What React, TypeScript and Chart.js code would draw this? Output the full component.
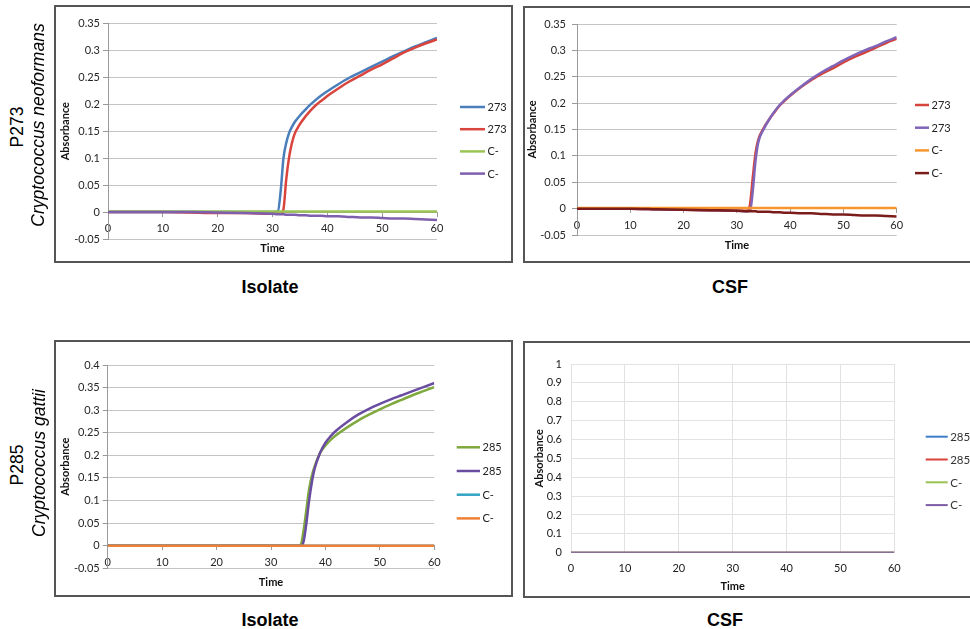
import React, { useEffect, useRef } from 'react';
import { Chart, registerables } from 'chart.js';

Chart.register(...registerables);

// ---------------- DATA ----------------
// Panel 1: P273 isolate
const TIME_P1 = [0, 5, 10, 15, 20, 25, 30, 31, 31.5, 32, 32.5, 33, 33.5, 34, 35, 36, 37, 38, 39, 40, 42, 44, 46, 48, 50, 52, 54, 56, 58, 60];
const P1_273_BLUE = [0, 0, 0, 0, 0, 0, 0, 0.002, 0.04, 0.1, 0.128, 0.146, 0.157, 0.166, 0.179, 0.19, 0.2, 0.209, 0.217, 0.224, 0.237, 0.249, 0.259, 0.269, 0.279, 0.289, 0.298, 0.307, 0.315, 0.323];
const P1_273_RED = [0, 0, 0, -0.001, -0.002, -0.002, -0.003, -0.003, -0.003, 0.005, 0.06, 0.1, 0.126, 0.144, 0.163, 0.177, 0.189, 0.199, 0.207, 0.215, 0.229, 0.242, 0.253, 0.264, 0.274, 0.285, 0.296, 0.305, 0.313, 0.32];
const P1_CNEG_GREEN = [0.001, 0.001, 0.001, 0.001, 0.001, 0.001, 0.001, 0.001, 0.001, 0.001, 0.001, 0.001, 0.001, 0.001, 0.001, 0.001, 0.001, 0.001, 0.001, 0.001, 0.001, 0.001, 0.001, 0.001, 0.001, 0.001, 0.001, 0.001, 0.001, 0.001];
const P1_CNEG_PURPLE = [0, 0, 0, 0, -0.001, -0.002, -0.003, -0.004, -0.004, -0.004, -0.005, -0.005, -0.005, -0.005, -0.006, -0.006, -0.007, -0.007, -0.007, -0.008, -0.008, -0.009, -0.01, -0.01, -0.011, -0.012, -0.012, -0.013, -0.014, -0.015];

// Panel 2: P273 CSF
const TIME_P2 = [0, 5, 10, 15, 20, 25, 30, 32, 32.5, 33, 33.5, 34, 35, 36, 37, 38, 39, 40, 42, 44, 46, 48, 50, 52, 54, 56, 58, 60];
const P2_273_RED = [0, 0, 0, -0.001, -0.002, -0.003, -0.004, -0.004, 0.01, 0.06, 0.105, 0.13, 0.152, 0.168, 0.182, 0.195, 0.205, 0.214, 0.23, 0.244, 0.256, 0.266, 0.277, 0.287, 0.296, 0.305, 0.314, 0.322];
const P2_273_PURPLE = [0, 0, 0, -0.001, -0.002, -0.003, -0.004, -0.005, -0.004, 0.035, 0.09, 0.125, 0.15, 0.168, 0.183, 0.196, 0.206, 0.215, 0.231, 0.246, 0.259, 0.27, 0.281, 0.291, 0.3, 0.308, 0.317, 0.325];
const P2_CNEG_ORANGE = [0.001, 0.001, 0.001, 0.001, 0.001, 0.001, 0.001, 0.001, 0.001, 0.001, 0.001, 0.001, 0.001, 0.001, 0.001, 0.001, 0.001, 0.001, 0.001, 0.001, 0.001, 0.001, 0.001, 0.001, 0.001, 0.001, 0.001, 0.001];
const P2_CNEG_DARKRED = [0, 0, 0, -0.001, -0.002, -0.003, -0.004, -0.005, -0.005, -0.005, -0.005, -0.006, -0.006, -0.006, -0.007, -0.007, -0.008, -0.008, -0.009, -0.009, -0.01, -0.011, -0.011, -0.012, -0.013, -0.013, -0.014, -0.015];

// Panel 3: P285 isolate
const TIME_P3 = [0, 5, 10, 15, 20, 25, 30, 35, 35.5, 36, 36.5, 37, 37.5, 38, 39, 40, 41, 42, 44, 46, 48, 50, 52, 54, 56, 58, 60];
const P3_285_GREEN = [0, 0, 0, 0, 0, 0, 0, 0, 0.003, 0.035, 0.08, 0.125, 0.155, 0.175, 0.205, 0.222, 0.235, 0.245, 0.262, 0.277, 0.29, 0.302, 0.313, 0.323, 0.333, 0.342, 0.351];
const P3_285_PURPLE = [0, 0, 0, 0, 0, 0, 0, 0, 0, 0.01, 0.05, 0.1, 0.14, 0.17, 0.205, 0.228, 0.243, 0.255, 0.274, 0.29, 0.303, 0.314, 0.324, 0.333, 0.342, 0.351, 0.36];
const P3_CNEG_TEAL = [0, 0, 0, 0, 0, 0, 0, 0, 0, 0, 0, 0, 0, 0, 0, 0, 0, 0, 0, 0, 0, 0, 0, 0, 0, 0, 0];
const P3_CNEG_ORANGE = [0, 0, 0, 0, 0, 0, 0, 0, 0, 0, 0, 0, 0, 0, 0, 0, 0, 0, 0, 0, 0, 0, 0, 0, 0, 0, 0];

// Panel 4: P285 CSF
const TIME_P4 = [0, 10, 20, 30, 40, 50, 60];
const P4_285_BLUE = [0, 0, 0, 0, 0, 0, 0];
const P4_285_RED = [0, 0, 0, 0, 0, 0, 0];
const P4_CNEG_GREEN = [0, 0, 0, 0, 0, 0, 0];
const P4_CNEG_PURPLE = [0, 0, 0, 0, 0, 0, 0];

const LABELS_P273 = ['273', '273', 'C-', 'C-'];
const LABELS_P285 = ['285', '285', 'C-', 'C-'];

const FONT = 'Lato, "Open Sans", sans-serif';

const fmtTick = (v: any) => {
  const r = Math.round(Number(v) * 1000) / 1000;
  return String(r === 0 ? 0 : r);
};

// ---------------- LEGEND PLUGIN ----------------
const sideLegend = {
  id: 'sideLegend',
  afterDraw(chart: any, _args: any, opts: any) {
    const ctx = chart.ctx;
    ctx.save();
    chart.data.datasets.forEach((ds: any, i: number) => {
      const y = opts.y + i * opts.step;
      ctx.strokeStyle = ds.borderColor;
      ctx.lineWidth = opts.lineWidth;
      ctx.lineCap = 'butt';
      ctx.beginPath();
      ctx.moveTo(opts.x, y);
      ctx.lineTo(opts.x + opts.len, y);
      ctx.stroke();
      ctx.fillStyle = opts.color;
      ctx.font = `${opts.fontSize}px ${FONT}`;
      ctx.textBaseline = 'middle';
      ctx.textAlign = 'left';
      ctx.fillText(ds.label, opts.x + opts.len + opts.gap, y + 0.5);
    });
    ctx.restore();
  },
};

type Series = { label: string; data: number[]; color: string };
type Spec = {
  times: number[];
  series: Series[];
  yMin: number; yMax: number; yStep: number;
  pad: { top: number; right: number; bottom: number };
  yAxisWidth: number;
  yTitlePad: number;
  yTickLen: number; yTickPad: number;
  xTickLen: number; xTickPad: number;
  modern: boolean;
  lineWidth: number;
  legend: any;
};

function buildConfig(spec: Spec): any {
  const n = spec.series.length;
  const datasets = spec.series.map((s, i) => ({
    label: s.label,
    data: spec.times.map((t, j) => ({ x: t, y: s.data[j] })),
    borderColor: s.color,
    backgroundColor: s.color,
    borderWidth: spec.lineWidth,
    pointRadius: 0,
    pointHoverRadius: 0,
    cubicInterpolationMode: 'monotone',
    fill: false,
    order: n - i,
  }));
  const axisColor = spec.modern ? 'transparent' : '#9a9a9a';
  const gridColor = spec.modern ? '#e2e2e2' : '#c4c4c4';
  const tickColor = spec.modern ? '#1a1a1a' : '#262626';
  return {
    type: 'line',
    data: { datasets },
    options: {
      responsive: false,
      animation: false,
      locale: 'en-US',
      events: [],
      layout: { padding: { left: 0, top: spec.pad.top, right: spec.pad.right, bottom: spec.pad.bottom } },
      plugins: {
        legend: { display: false },
        tooltip: { enabled: false },
        sideLegend: spec.legend,
      },
      scales: {
        x: {
          type: 'linear',
          position: { y: 0 },
          min: 0,
          max: 60,
          ticks: {
            stepSize: 10,
            padding: spec.xTickPad,
            color: tickColor,
            font: { family: FONT, size: 11 },
            maxRotation: 0,
            callback: fmtTick,
          },
          grid: {
            display: true,
            drawOnChartArea: spec.modern,
            drawTicks: true,
            tickLength: spec.xTickLen,
            color: gridColor,
            tickColor: spec.modern ? 'transparent' : '#9a9a9a',
          },
          border: { display: !spec.modern, color: axisColor, width: 1 },
          title: {
            display: true,
            text: 'Time',
            color: '#111',
            font: { family: FONT, size: 11, weight: 'bold' },
            padding: { top: 1, bottom: 0 },
          },
        },
        y: {
          type: 'linear',
          position: 'left',
          min: spec.yMin,
          max: spec.yMax,
          afterFit: (axis: any) => { axis.width = spec.yAxisWidth; },
          ticks: {
            stepSize: spec.yStep,
            padding: spec.yTickPad,
            color: tickColor,
            font: { family: FONT, size: 11 },
            callback: fmtTick,
          },
          grid: {
            display: true,
            drawTicks: true,
            tickLength: spec.yTickLen,
            color: gridColor,
            tickColor: spec.modern ? 'transparent' : '#9a9a9a',
          },
          border: { display: !spec.modern, color: axisColor, width: 1 },
          title: {
            display: true,
            text: 'Absorbance',
            color: '#111',
            font: { family: FONT, size: 11, weight: 'bold' },
            padding: { top: spec.yTitlePad, bottom: 0 },
          },
        },
      },
    },
    plugins: [sideLegend],
  };
}

function ChartBox(props: { left: number; top: number; width: number; height: number; spec: Spec }) {
  const ref = useRef<HTMLCanvasElement | null>(null);
  useEffect(() => {
    if (!ref.current) return;
    const chart = new Chart(ref.current, buildConfig(props.spec));
    return () => chart.destroy();
  }, []);
  const { left, top, width, height } = props;
  return (
    <>
      <canvas
        ref={ref}
        width={width}
        height={height}
        style={{ position: 'absolute', left, top, width, height, display: 'block' }}
      />
      <div
        style={{
          position: 'absolute', left, top, width, height,
          border: '2px solid #555', boxSizing: 'border-box', pointerEvents: 'none',
        }}
      />
    </>
  );
}

const legendBase = { color: '#222', fontSize: 11, gap: 2.5, lineWidth: 2.5 };

const SPEC1: Spec = {
  times: TIME_P1,
  series: [
    { label: LABELS_P273[0], data: P1_273_BLUE, color: '#4A7EBB' },
    { label: LABELS_P273[1], data: P1_273_RED, color: '#D9443D' },
    { label: LABELS_P273[2], data: P1_CNEG_GREEN, color: '#9BC455' },
    { label: LABELS_P273[3], data: P1_CNEG_PURPLE, color: '#7E5FAE' },
  ],
  yMin: -0.05, yMax: 0.35, yStep: 0.05,
  pad: { top: 18.3, right: 76, bottom: 24 },
  yAxisWidth: 54, yTitlePad: 4.7, yTickLen: 5, yTickPad: 3,
  xTickLen: 4, xTickPad: 6, modern: false, lineWidth: 2.5,
  legend: { ...legendBase, x: 406, len: 25, y: 102, step: 22.2 },
};

const SPEC2: Spec = {
  times: TIME_P2,
  series: [
    { label: LABELS_P273[0], data: P2_273_RED, color: '#D5443A' },
    { label: LABELS_P273[1], data: P2_273_PURPLE, color: '#8064B8' },
    { label: LABELS_P273[2], data: P2_CNEG_ORANGE, color: '#F7962F' },
    { label: LABELS_P273[3], data: P2_CNEG_DARKRED, color: '#7A1C1A' },
  ],
  yMin: -0.05, yMax: 0.35, yStep: 0.05,
  pad: { top: 18, right: 78.3, bottom: 28 },
  yAxisWidth: 54, yTitlePad: 3, yTickLen: 5, yTickPad: 6,
  xTickLen: 4, xTickPad: 6, modern: false, lineWidth: 2.5,
  legend: { ...legendBase, x: 392, len: 14, y: 99, step: 22.7 },
};

const SPEC3: Spec = {
  times: TIME_P3,
  series: [
    { label: LABELS_P285[0], data: P3_285_GREEN, color: '#7FA93E' },
    { label: LABELS_P285[1], data: P3_285_PURPLE, color: '#6A4DA0' },
    { label: LABELS_P285[2], data: P3_CNEG_TEAL, color: '#33A3C4' },
    { label: LABELS_P285[3], data: P3_CNEG_ORANGE, color: '#F08036' },
  ],
  yMin: -0.05, yMax: 0.4, yStep: 0.05,
  pad: { top: 25, right: 78.7, bottom: 28.7 },
  yAxisWidth: 53.7, yTitlePad: 4.7, yTickLen: 5, yTickPad: 3,
  xTickLen: 4, xTickPad: 6, modern: false, lineWidth: 2.5,
  legend: { ...legendBase, x: 402.7, len: 23.3, y: 107.3, step: 23.7 },
};

const SPEC4: Spec = {
  times: TIME_P4,
  series: [
    { label: LABELS_P285[0], data: P4_285_BLUE, color: '#3E7DC8' },
    { label: LABELS_P285[1], data: P4_285_RED, color: '#D9413A' },
    { label: LABELS_P285[2], data: P4_CNEG_GREEN, color: '#9BC254' },
    { label: LABELS_P285[3], data: P4_CNEG_PURPLE, color: '#7C5CA6' },
  ],
  yMin: 0, yMax: 1, yStep: 0.1,
  pad: { top: 23, right: 80.7, bottom: 45.3 },
  yAxisWidth: 48, yTitlePad: 9.7, yTickLen: 4, yTickPad: 5,
  xTickLen: 4, xTickPad: 4.7, modern: true, lineWidth: 2,
  legend: { ...legendBase, color: '#333', fontSize: 11.5, lineWidth: 2, x: 402.7, len: 22, y: 95.7, step: 22.8 },
};

const bigLabel: React.CSSProperties = {
  position: 'absolute',
  transform: 'translate(-50%, -50%)',
  font: 'bold 18px "Liberation Sans", Arial, sans-serif',
  color: '#000',
  whiteSpace: 'nowrap',
  lineHeight: '1',
};

const sideLabel = (italic: boolean): React.CSSProperties => ({
  position: 'absolute',
  transform: 'translate(-50%, -50%) rotate(-90deg)',
  font: `${italic ? 'italic ' : ''}17.5px "Liberation Sans", Arial, sans-serif`,
  color: '#000',
  whiteSpace: 'nowrap',
  lineHeight: '1',
});

export default function App() {
  return (
    <div
      style={{
        position: 'absolute', left: 0, top: 0, width: 970, height: 629,
        overflow: 'hidden', background: '#fff',
      }}
    >
      <ChartBox left={54} top={5} width={459} height={258} spec={SPEC1} />
      <ChartBox left={523} top={6} width={452} height={257} spec={SPEC2} />
      <ChartBox left={54} top={340} width={459} height={257} spec={SPEC3} />
      <ChartBox left={523} top={341} width={452} height={257} spec={SPEC4} />

      <div style={{ ...bigLabel, left: 270, top: 287 }}>Isolate</div>
      <div style={{ ...bigLabel, left: 730, top: 287 }}>CSF</div>
      <div style={{ ...bigLabel, left: 270, top: 620 }}>Isolate</div>
      <div style={{ ...bigLabel, left: 725, top: 620 }}>CSF</div>

      <div style={{ ...sideLabel(false), left: 18, top: 127 }}>P273</div>
      <div style={{ ...sideLabel(true), left: 39, top: 125 }}>Cryptococcus neoformans</div>
      <div style={{ ...sideLabel(false), left: 18, top: 465 }}>P285</div>
      <div style={{ ...sideLabel(true), left: 40, top: 463 }}>Cryptococcus gattii</div>
    </div>
  );
}
